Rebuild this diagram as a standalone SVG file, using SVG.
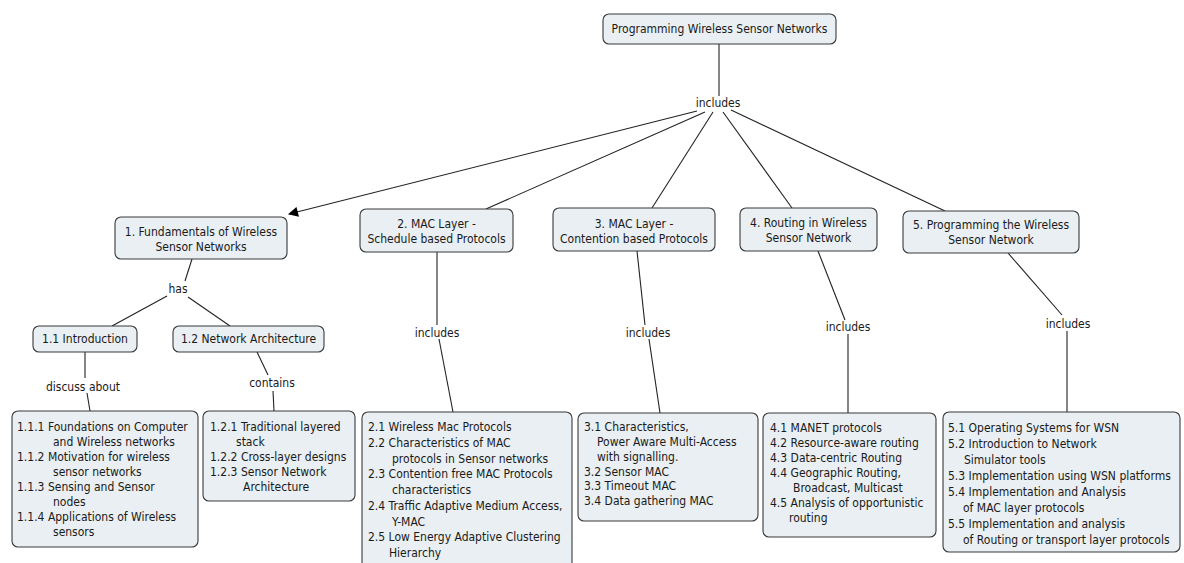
<svg xmlns="http://www.w3.org/2000/svg" width="1184" height="563" viewBox="0 0 1184 563">
<style>
.box{fill:#e9eff2;stroke:#3a3a3a;stroke-width:1.1}
text{font-family:"DejaVu Sans Condensed","DejaVu Sans",sans-serif;font-size:12px;fill:#1a1a1a}
.c{text-anchor:middle}
.ln{stroke:#222;stroke-width:1.1;fill:none}
</style>
<defs>
<marker id="arr" viewBox="0 0 10 10" refX="9" refY="5" markerWidth="12" markerHeight="10" markerUnits="userSpaceOnUse" orient="auto">
<path d="M0,0 L10,5 L0,10 z" fill="#000"/>
</marker>
</defs>
<rect width="1184" height="563" fill="#fff"/>
<g id="connectors">
<line class="ln" x1="719" y1="44" x2="719" y2="96"/>
<line class="ln" x1="697" y1="111" x2="289" y2="214" marker-end="url(#arr)"/>
<line class="ln" x1="705" y1="112" x2="486" y2="209"/>
<line class="ln" x1="713" y1="112" x2="652" y2="208"/>
<line class="ln" x1="723" y1="112" x2="792" y2="208"/>
<line class="ln" x1="731" y1="110" x2="945" y2="211"/>
<line class="ln" x1="192" y1="259" x2="185" y2="281"/>
<line class="ln" x1="167" y1="296" x2="112" y2="326"/>
<line class="ln" x1="188" y1="297" x2="230" y2="326"/>
<line class="ln" x1="85" y1="352" x2="85" y2="378"/>
<line class="ln" x1="87" y1="393" x2="90" y2="411"/>
<line class="ln" x1="257" y1="352" x2="268" y2="375"/>
<line class="ln" x1="273" y1="391" x2="274" y2="411"/>
<line class="ln" x1="437" y1="252" x2="437" y2="325"/>
<line class="ln" x1="439" y1="339" x2="453" y2="412"/>
<line class="ln" x1="637" y1="251" x2="645" y2="325"/>
<line class="ln" x1="649" y1="339" x2="660" y2="413"/>
<line class="ln" x1="818" y1="251" x2="845" y2="320"/>
<line class="ln" x1="848" y1="334" x2="848" y2="413"/>
<line class="ln" x1="1008" y1="253" x2="1062" y2="315"/>
<line class="ln" x1="1067" y1="331" x2="1067" y2="412"/>
</g>
<g id="labels">
<text class="c" x="718" y="107">includes</text>
<text class="c" x="178" y="293">has</text>
<text class="c" x="83" y="391">discuss about</text>
<text class="c" x="272" y="387">contains</text>
<text class="c" x="437" y="337">includes</text>
<text class="c" x="648" y="337">includes</text>
<text class="c" x="848" y="331">includes</text>
<text class="c" x="1068" y="328">includes</text>
</g>
<g id="n0"><rect class="box" x="603" y="14" width="233" height="30" rx="6"/><text class="c" x="719.5" y="33">Programming Wireless Sensor Networks</text></g>
<g id="n1"><rect class="box" x="115" y="217" width="172" height="42" rx="6"/><text class="c" x="201" y="236">1. Fundamentals of Wireless</text><text class="c" x="201" y="251">Sensor Networks</text></g>
<g id="n2"><rect class="box" x="360" y="209" width="153" height="43" rx="6"/><text class="c" x="436.5" y="228">2. MAC Layer -</text><text class="c" x="436.5" y="243">Schedule based Protocols</text></g>
<g id="n3"><rect class="box" x="553" y="208" width="162" height="43" rx="6"/><text class="c" x="634" y="228">3. MAC Layer -</text><text class="c" x="634" y="243">Contention based Protocols</text></g>
<g id="n4"><rect class="box" x="740" y="208" width="137" height="43" rx="6"/><text class="c" x="808.5" y="227">4. Routing in Wireless</text><text class="c" x="808.5" y="242">Sensor Network</text></g>
<g id="n5"><rect class="box" x="903" y="211" width="176" height="42" rx="6"/><text class="c" x="991" y="229">5. Programming the Wireless</text><text class="c" x="991" y="244">Sensor Network</text></g>
<g id="n11"><rect class="box" x="33" y="326" width="104" height="26" rx="6"/><text class="c" x="85" y="343">1.1 Introduction</text></g>
<g id="n12"><rect class="box" x="173" y="326" width="151" height="26" rx="6"/><text class="c" x="248.5" y="343">1.2 Network Architecture</text></g>
<g id="l11"><rect class="box" x="12" y="411" width="186" height="136" rx="6"/>
<text x="17" y="431">1.1.1 Foundations on Computer</text>
<text x="53" y="446">and Wireless networks</text>
<text x="17" y="461">1.1.2 Motivation for wireless</text>
<text x="53" y="476">sensor networks</text>
<text x="17" y="491">1.1.3 Sensing and Sensor</text>
<text x="53" y="506">nodes</text>
<text x="17" y="521">1.1.4 Applications of Wireless</text>
<text x="53" y="536">sensors</text></g>
<g id="l12"><rect class="box" x="203" y="411" width="152" height="90" rx="6"/>
<text x="210" y="431">1.2.1 Traditional layered</text>
<text x="236" y="446">stack</text>
<text x="210" y="461">1.2.2 Cross-layer designs</text>
<text x="210" y="476">1.2.3 Sensor Network</text>
<text x="243" y="491">Architecture</text></g>
<g id="l2"><rect class="box" x="362" y="412" width="210" height="160" rx="6"/>
<text x="368" y="431">2.1 Wireless Mac Protocols</text>
<text x="368" y="446.8">2.2 Characteristics of MAC</text>
<text x="392" y="462.5">protocols in Sensor networks</text>
<text x="368" y="478.3">2.3 Contention free MAC Protocols</text>
<text x="392" y="494">characteristics</text>
<text x="368" y="509.8">2.4 Traffic Adaptive Medium Access,</text>
<text x="392" y="525.5">Y-MAC</text>
<text x="368" y="541.3">2.5 Low Energy Adaptive Clustering</text>
<text x="389" y="557">Hierarchy</text></g>
<g id="l3"><rect class="box" x="578" y="413" width="180" height="108" rx="6"/>
<text x="584" y="431">3.1 Characteristics,</text>
<text x="597" y="446">Power Aware Multi-Access</text>
<text x="597" y="461">with signalling.</text>
<text x="584" y="475.5">3.2 Sensor MAC</text>
<text x="584" y="490">3.3 Timeout MAC</text>
<text x="584" y="504.5">3.4 Data gathering MAC</text></g>
<g id="l4"><rect class="box" x="763" y="413" width="173" height="124" rx="6"/>
<text x="770" y="432">4.1 MANET protocols</text>
<text x="770" y="447">4.2 Resource-aware routing</text>
<text x="770" y="462">4.3 Data-centric Routing</text>
<text x="770" y="477">4.4 Geographic Routing,</text>
<text x="793" y="492">Broadcast, Multicast</text>
<text x="770" y="507">4.5 Analysis of opportunistic</text>
<text x="789" y="522">routing</text></g>
<g id="l5"><rect class="box" x="943" y="412" width="237" height="140" rx="6"/>
<text x="948" y="432">5.1 Operating Systems for WSN</text>
<text x="948" y="448">5.2 Introduction to Network</text>
<text x="964" y="464">Simulator tools</text>
<text x="948" y="480">5.3 Implementation using WSN platforms</text>
<text x="948" y="496">5.4 Implementation and Analysis</text>
<text x="963" y="512">of MAC layer protocols</text>
<text x="948" y="528">5.5 Implementation and analysis</text>
<text x="963" y="544">of Routing or transport layer protocols</text></g>
</svg>
